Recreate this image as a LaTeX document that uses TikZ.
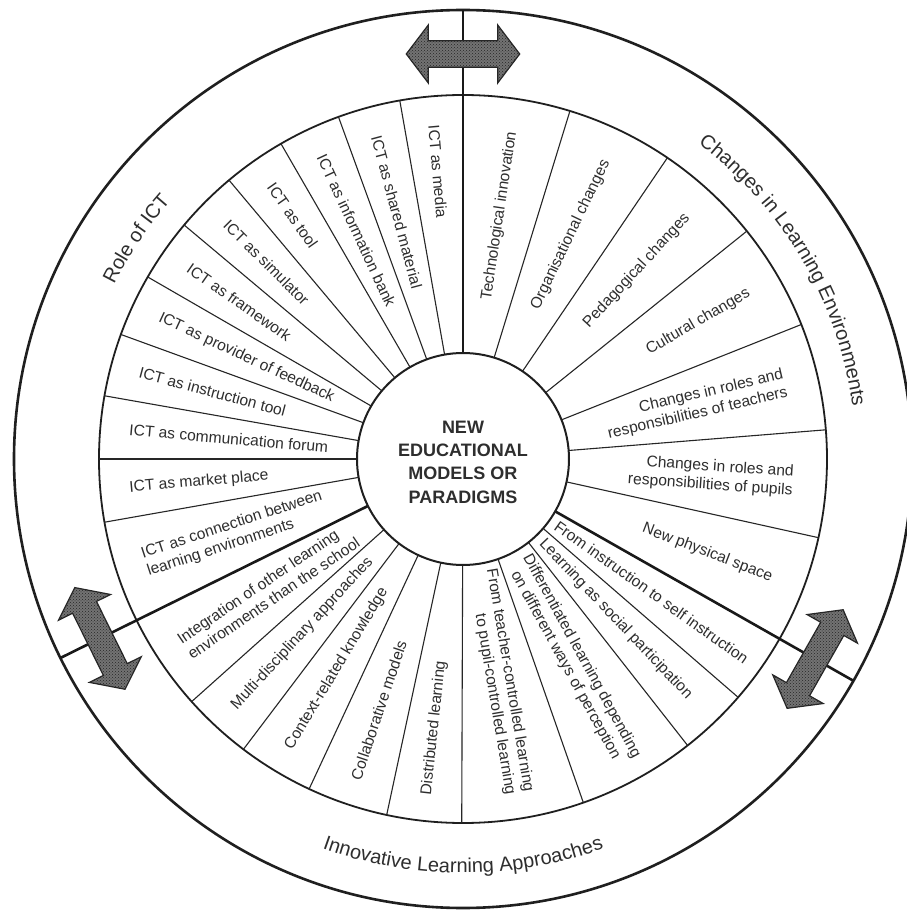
\documentclass[tikz,border=0pt]{standalone}
\usepackage{fontspec}
\setmainfont{Liberation Sans}
\usetikzlibrary{decorations.text,patterns}

\tikzset{
  rim/.style={draw=black!88, line width=2.6pt},
  ring/.style={draw=black!88, line width=1.8pt},
  spoke/.style={draw=black!85, line width=1.1pt},
  border/.style={draw=black!90, line width=2.6pt},
  wedgetext/.style={font=\fontsize{15.6}{18.6}\selectfont, text=black!82, inner sep=0pt},
  coretext/.style={font=\bfseries\fontsize{18}{23.3}\selectfont, text=black!82, align=center, inner sep=0pt},
  arrowbody/.style={preaction={fill=black!55}, pattern=crosshatch dots, pattern color=black!85,
                    draw=black!85, line width=1.2pt, line join=miter},
  pics/dblarrow/.style={code={
    \path[arrowbody] (-56.7,0) -- (-34.7,29) -- (-34.7,13.3) -- (34.7,13.3) -- (34.7,29)
      -- (56.7,0) -- (34.7,-29) -- (34.7,-13.3) -- (-34.7,-13.3) -- (-34.7,-29) -- cycle;
  }}
}

\begin{document}
\begin{tikzpicture}[x=1pt, y=1pt]
  \useasboundingbox[fill=white] (-463,-454) rectangle (444,459);

  % rings
  \draw[rim]  (0,0) circle[radius=449];
  \draw[ring] (0,0) circle[radius=364];

  % thin spokes between the wedges
  \foreach \a in {100,110,120,130,140,150,160,170,180,190,
                  72.92,55.84,38.76,21.68,4.6,-12.48,
                  319.1,308.1,289.3,269.8,257.9,245,232.9,221.8}
    \draw[spoke] (\a:106) -- (\a:364);

  % heavy section borders
  \foreach \a in {90,206.3,330.4}
    \draw[border] (\a:106) -- (\a:449);

  % centre
  \node[circle, draw=black!88, line width=2pt, fill=white, minimum size=212pt, inner sep=0pt] (core) at (0,0) {};
  \node[coretext] (coretitle) at (0,-3) {NEW\\EDUCATIONAL\\MODELS OR\\PARADIGMS};

  % double arrows on the section borders
  \pic[rotate=0]     at (90:405)    {dblarrow};
  \pic[rotate=116.3] at (206.3:405) {dblarrow};
  \pic[rotate=240.4] at (330.4:405) {dblarrow};

  % Role of ICT
  \node[wedgetext, anchor=west, rotate=-85] (r1) at (95:335) {ICT as media};
  \node[wedgetext, anchor=west, rotate=-75] (r2) at (105:335) {ICT as shared material};
  \node[wedgetext, anchor=west, rotate=-65] (r3) at (115:335) {ICT as information bank};
  \node[wedgetext, anchor=west, rotate=-55] (r4) at (125:335) {ICT as tool};
  \node[wedgetext, anchor=west, rotate=-45] (r5) at (135:335) {ICT as simulator};
  \node[wedgetext, anchor=west, rotate=-35] (r6) at (145:335) {ICT as framework};
  \node[wedgetext, anchor=west, rotate=-25] (r7) at (155:335) {ICT as provider of feedback};
  \node[wedgetext, anchor=west, rotate=-15] (r8) at (165:335) {ICT as instruction tool};
  \node[wedgetext, anchor=west, rotate=-5]  (r9) at (175:335) {ICT as communication forum};
  \node[wedgetext, anchor=west, rotate=5]   (r10) at (185:335) {ICT as market place};
  \node[wedgetext, anchor=west, rotate=18.15, align=left] (r11) at (198.15:335)
    {ICT as connection between\\learning environments};

  % Changes in Learning Environments
  \node[wedgetext, anchor=east, rotate=81.46] (c1) at (81.46:331) {Technological innovation};
  \node[wedgetext, anchor=east, rotate=64.38] (c2) at (64.38:331) {Organisational changes};
  \node[wedgetext, anchor=east, rotate=47.3]  (c3) at (47.3:331) {Pedagogical changes};
  \node[wedgetext, anchor=east, rotate=30.22] (c4) at (30.22:331) {Cultural changes};
  \node[wedgetext, anchor=east, rotate=13.14, align=right] (c5) at (13.14:331)
    {Changes in roles and\\responsibilities of teachers};
  \node[wedgetext, anchor=east, rotate=-3.94, align=right] (c6) at (-3.94:331)
    {Changes in roles and\\responsibilities of pupils};
  \node[wedgetext, anchor=east, rotate=-21.02] (c7) at (-21.02:331) {New physical space};

  % Innovative Learning Approaches
  \node[wedgetext, anchor=west, rotate=-35.25] (i1) at (324.75:114) {From instruction to self instruction};
  \node[wedgetext, anchor=west, rotate=-46.4]  (i2) at (313.6:114) {Learning as social participation};
  \node[wedgetext, anchor=center, rotate=-61.3, align=center] (i3) at (298.7:230)
    {Differentiated learning depending\\on different ways of perception};
  \node[wedgetext, anchor=east, rotate=-80.45, align=right] (i4) at (279.55:339)
    {From teacher-controlled learning\\to pupil-controlled learning};
  \node[wedgetext, anchor=west, rotate=83.85] (i5) at (263.85:338) {Distributed learning};
  \node[wedgetext, anchor=west, rotate=71.45] (i6) at (251.45:338) {Collaborative models};
  \node[wedgetext, anchor=west, rotate=58.95] (i7) at (238.95:338) {Context-related knowledge};
  \node[wedgetext, anchor=west, rotate=47.35] (i8) at (227.35:338) {Multi-disciplinary approaches};
  \node[wedgetext, anchor=west, rotate=34.05, align=left] (i9) at (214.05:337)
    {Integration of other learning\\environments than the school};

  % section titles set along the outer ring
  \path[decorate, decoration={text along path, text align=center, text color=black!82,
        text={|\fontsize{20}{24}\selectfont|Role of ICT}}]
    (181:390) arc[start angle=181, end angle=111, radius=390];
  \path[decorate, decoration={text along path, text align=center, text color=black!82,
        text={|\fontsize{20}{24}\selectfont|Changes in Learning Environments}}]
    (75:393) arc[start angle=75, end angle=-14, radius=393];
  \path[decorate, decoration={text along path, text align=center, text color=black!82,
        text={|\fontsize{20}{24}\selectfont|Innovative Learning Approaches}}]
    (225:414) arc[start angle=225, end angle=315, radius=414];
\end{tikzpicture}
\end{document}
